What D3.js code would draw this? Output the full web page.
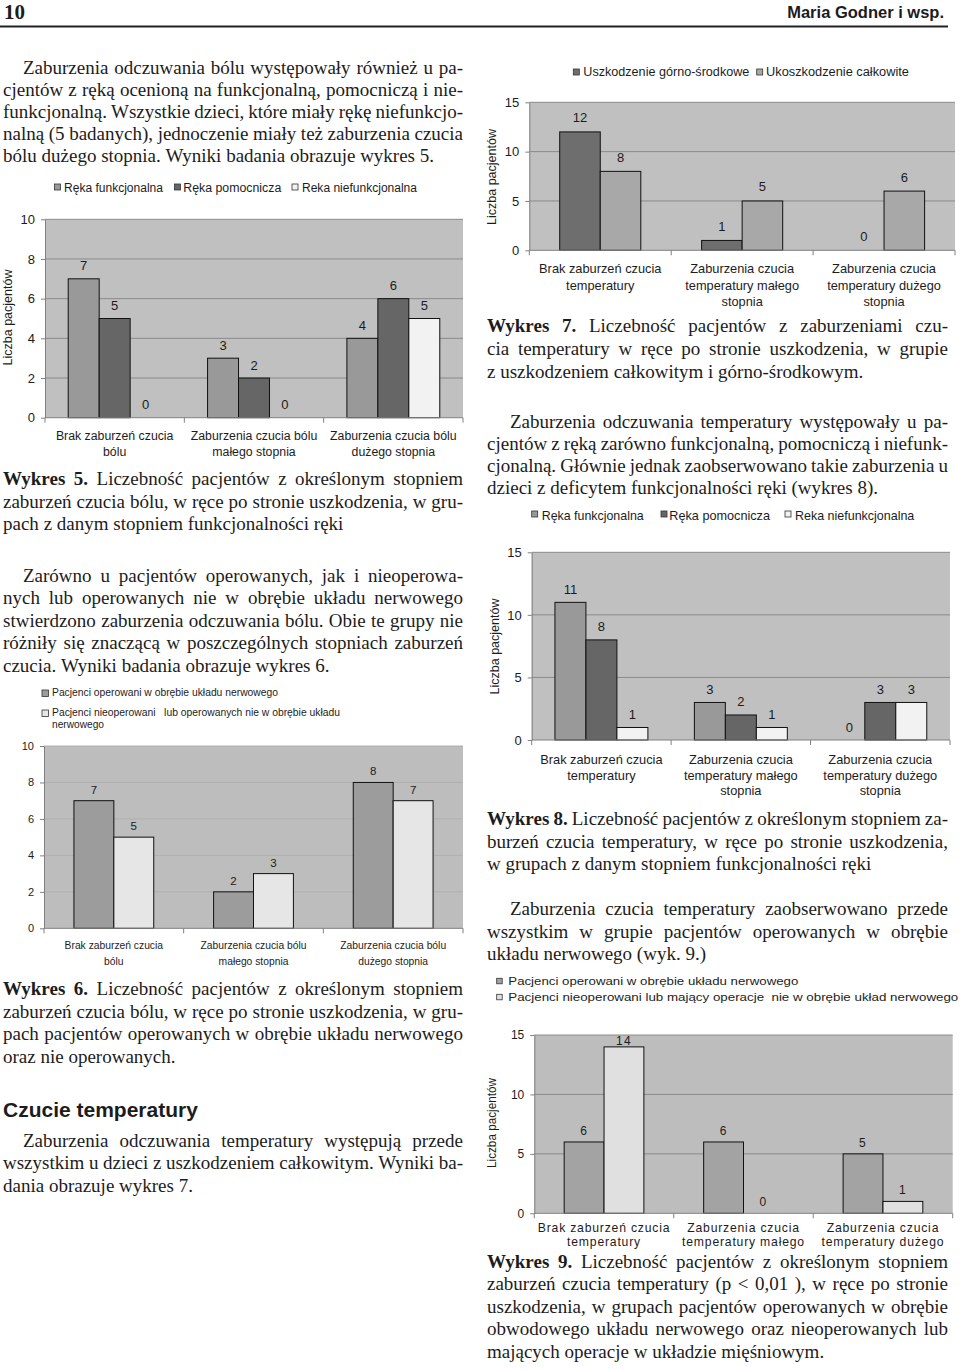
<!DOCTYPE html>
<html><head><meta charset="utf-8">
<script src="https://cdn.jsdelivr.net/npm/d3@7"></script>
<style>
body{margin:0;background:#fff}
svg{display:block}
.serif{font-family:"Liberation Serif","Times New Roman",serif}
.sans{font-family:"Liberation Sans",Arial,sans-serif}
</style></head><body>
<svg id="page" width="960" height="1370"></svg>
<script>
// ---------- DATA ----------
// Wykres 5
const c5Categories = [["Brak zaburzeń czucia","bólu"],["Zaburzenia czucia bólu","małego stopnia"],["Zaburzenia czucia bólu","dużego stopnia"]];
const c5SeriesNames = ["Ręka funkcjonalna","Ręka pomocnicza","Reka niefunkcjonalna"];
const c5Funkcjonalna = [7,3,4];
const c5Pomocnicza = [5,2,6];
const c5Niefunkcjonalna = [0,0,5];
const c5Ticks = [0,2,4,6,8,10];
// Wykres 6
const c6Categories = [["Brak zaburzeń czucia","bólu"],["Zaburzenia czucia bólu","małego stopnia"],["Zaburzenia czucia bólu","dużego stopnia"]];
const c6SeriesNames = ["Pacjenci operowani w obrębie układu nerwowego","Pacjenci nieoperowani   lub operowanych nie w obrębie układu nerwowego"];
const c6Operowani = [7,2,8];
const c6Nieoperowani = [5,3,7];
const c6Ticks = [0,2,4,6,8,10];
// Wykres 7
const c7Categories = [["Brak zaburzeń czucia","temperatury"],["Zaburzenia czucia","temperatury małego","stopnia"],["Zaburzenia czucia","temperatury dużego","stopnia"]];
const c7SeriesNames = ["Uszkodzenie górno-środkowe","Ukoszkodzenie całkowite"];
const c7GornoSrodkowe = [12,1,0];
const c7Calkowite = [8,5,6];
const c7Ticks = [0,5,10,15];
// Wykres 8
const c8Categories = [["Brak zaburzeń czucia","temperatury"],["Zaburzenia czucia","temperatury małego","stopnia"],["Zaburzenia czucia","temperatury dużego","stopnia"]];
const c8SeriesNames = ["Ręka funkcjonalna","Ręka pomocnicza","Reka niefunkcjonalna"];
const c8Funkcjonalna = [11,3,0];
const c8Pomocnicza = [8,2,3];
const c8Niefunkcjonalna = [1,1,3];
const c8Ticks = [0,5,10,15];
// Wykres 9
const c9Categories = [["Brak zaburzeń czucia","temperatury"],["Zaburzenia czucia","temperatury małego"],["Zaburzenia czucia","temperatury dużego"]];
const c9SeriesNames = ["Pacjenci operowani w obrębie układu nerwowego","Pacjenci nieoperowani lub mający operacje  nie w obrębie układ nerwowego"];
const c9Operowani = [6,6,5];
const c9Nieoperowani = [14,0,1];
const c9Ticks = [0,5,10,15];
const yLabel = "Liczba pacjentów";

// ---------- TEXT ----------
const para1 = ["Zaburzenia odczuwania bólu występowały również u pa-","cjentów z ręką ocenioną na funkcjonalną, pomocniczą i nie-","funkcjonalną. Wszystkie dzieci, które miały rękę niefunkcjo-","nalną (5 badanych), jednoczenie miały też zaburzenia czucia","bólu dużego stopnia. Wyniki badania obrazuje wykres 5."];
const cap5 = ["Wykres 5. Liczebność pacjentów z określonym stopniem","zaburzeń czucia bólu, w ręce po stronie uszkodzenia, w gru-","pach z danym stopniem funkcjonalności ręki"];
const para2 = ["Zarówno u pacjentów operowanych, jak i nieoperowa-","nych lub operowanych nie w obrębie układu nerwowego","stwierdzono zaburzenia odczuwania bólu. Obie te grupy nie","różniły się znaczącą w poszczególnych stopniach zaburzeń","czucia. Wyniki badania obrazuje wykres 6."];
const cap6 = ["Wykres 6. Liczebność pacjentów z określonym stopniem","zaburzeń czucia bólu, w ręce po stronie uszkodzenia, w gru-","pach pacjentów operowanych w obrębie układu nerwowego","oraz nie operowanych."];
const para3 = ["Zaburzenia odczuwania temperatury występują przede","wszystkim u dzieci z uszkodzeniem całkowitym. Wyniki ba-","dania obrazuje wykres 7."];
const cap7 = ["Wykres 7. Liczebność pacjentów z zaburzeniami czu-","cia temperatury w ręce po stronie uszkodzenia, w grupie","z uszkodzeniem całkowitym i górno-środkowym."];
const paraR1 = ["Zaburzenia odczuwania temperatury występowały u pa-","cjentów z ręką zarówno funkcjonalną, pomocniczą i niefunk-","cjonalną. Głównie jednak zaobserwowano takie zaburzenia u","dzieci z deficytem funkcjonalności ręki (wykres 8)."];
const cap8 = ["Wykres 8. Liczebność pacjentów z określonym stopniem za-","burzeń czucia temperatury, w ręce  po stronie uszkodzenia,","w grupach z danym stopniem funkcjonalności ręki"];
const paraR2 = ["Zaburzenia czucia temperatury zaobserwowano przede","wszystkim w grupie pacjentów operowanych w obrębie","układu nerwowego (wyk. 9.)"];
const cap9 = ["Wykres 9. Liczebność pacjentów z określonym stopniem","zaburzeń czucia temperatury (p < 0,01 ), w ręce po stronie","uszkodzenia, w grupach pacjentów operowanych w obrębie","obwodowego układu nerwowego oraz nieoperowanych lub","mających operacje w układzie mięśniowym."];

const svg = d3.select("#page");
const INK = "#1c1c1c";

// header
svg.append("text").attr("class","serif").attr("x",4).attr("y",19).attr("font-size",21).attr("font-weight","bold").attr("fill",INK).text("10");
svg.append("text").attr("class","sans").attr("x",944).attr("y",17.5).attr("text-anchor","end").attr("font-size",16.5).attr("font-weight","bold").attr("fill",INK).text("Maria Godner i wsp.");
svg.append("line").attr("x1",0).attr("x2",948).attr("y1",26.5).attr("y2",26.5).attr("stroke","#222").attr("stroke-width",2);

function drawLines(lines, o) {
  const g = svg.append("g").attr("class","serif").attr("fill",INK);
  lines.forEach((line, i) => {
    const y = o.y0 + i * o.step;
    const ind = i === 0 ? (o.indent || 0) : 0;
    const x = o.x + ind, w = o.width - ind;
    const justify = i < lines.length - 1;
    const words = line.split(/\s+/).filter(Boolean);
    const nodes = words.map((wd, k) => g.append("text").attr("font-size", 19).attr("y", y)
      .attr("font-weight", (i === 0 && k < (o.bold || 0)) ? "bold" : null).text(wd));
    const widths = nodes.map(n => n.node().getComputedTextLength());
    const sum = d3.sum(widths);
    const gap = (justify && words.length > 1) ? (w - sum) / (words.length - 1) : 4.75;
    let cx = x;
    nodes.forEach((n, k) => { n.attr("x", cx); cx += widths[k] + gap; });
  });
}

drawLines(para1, {x:3, width:460, y0:73.5, step:22.2, indent:20});
drawLines(cap5, {x:3, width:460, y0:485, step:22.5, bold:2});
drawLines(para2, {x:3, width:460, y0:581.7, step:22.5, indent:20});
drawLines(cap6, {x:3, width:460, y0:995, step:22.7, bold:2});
svg.append("text").attr("class","sans").attr("x",3).attr("y",1117).attr("font-size",21).attr("font-weight","bold").attr("fill",INK).text("Czucie temperatury");
drawLines(para3, {x:3, width:460, y0:1146.7, step:22.5, indent:20});
drawLines(cap7, {x:487, width:461, y0:331.7, step:23.3, bold:2});
drawLines(paraR1, {x:487, width:461, y0:427.7, step:22, indent:23});
drawLines(cap8, {x:487, width:461, y0:825, step:22.5, bold:2});
drawLines(paraR2, {x:487, width:461, y0:915, step:22.5, indent:23});
drawLines(cap9, {x:487, width:461, y0:1267.5, step:22.5, bold:2});

// ---------- CHARTS ----------
function barChart(c) {
  const g = svg.append("g").attr("class","sans").attr("fill",INK);
  const x = d3.scaleBand().domain(d3.range(c.categories.length)).range([c.left, c.right]);
  const xi = d3.scaleBand().domain(d3.range(c.series.length)).range([0, x.bandwidth()]).paddingInner(0).paddingOuter(0.75);
  const y = d3.scaleLinear().domain([0, c.max]).range([c.bottom, c.top]);
  g.append("rect").attr("x",c.left).attr("y",c.top).attr("width",c.right-c.left).attr("height",c.bottom-c.top).attr("fill",c.bg);
  g.selectAll(".grid").data(c.ticks.filter(t => t > 0)).join("line")
    .attr("x1",c.left).attr("x2",c.right).attr("y1",d=>y(d)).attr("y2",d=>y(d))
    .attr("stroke",c.grid).attr("stroke-width",1);
  c.series.forEach((s, si) => {
    const sg = g.append("g");
    sg.selectAll("rect").data(s.values).join("rect")
      .attr("x",(d,i)=>x(i)+xi(si)).attr("width",xi.bandwidth())
      .attr("y",d=>y(d)).attr("height",d=>y(0)-y(d))
      .attr("fill",s.color).attr("stroke",d=>d>0?"#111":"none").attr("stroke-width",1);
    sg.selectAll("text").data(s.values).join("text")
      .attr("x",(d,i)=>x(i)+xi(si)+xi.bandwidth()/2)
      .attr("y",d=>Math.max(y(d)-c.valOff, c.top+10))
      .attr("text-anchor","middle").attr("font-size",c.valFont)
      .attr("letter-spacing",c.valSpacing||0)
      .text(d=>d);
  });
  // y axis
  const ax = g.append("g").attr("transform",`translate(${c.left},0)`)
    .call(d3.axisLeft(y).tickValues(c.ticks).tickSize(4).tickSizeOuter(0).tickPadding(6).tickFormat(d3.format("d")));
  ax.selectAll("path,line").attr("stroke","#808080");
  ax.selectAll("text").attr("font-size",c.tickFont).attr("fill",INK).attr("font-family","Liberation Sans, Arial, sans-serif");
  // x axis
  g.append("line").attr("x1",c.left).attr("x2",c.right).attr("y1",y(0)).attr("y2",y(0)).attr("stroke","#808080");
  const bounds = x.domain().map(i=>x(i)).concat([c.right]);
  g.selectAll(".xt").data(bounds).join("line").attr("x1",d=>d).attr("x2",d=>d)
    .attr("y1",y(0)).attr("y2",y(0)+5).attr("stroke","#808080");
  // category labels
  c.categories.forEach((lines, i) => {
    const t = g.append("text").attr("text-anchor","middle").attr("font-size",c.catFont)
      .attr("letter-spacing",c.catSpacing||0);
    lines.forEach((ln, k) => t.append("tspan").attr("x",x(i)+x.bandwidth()/2)
      .attr("y",y(0)+c.catOffset+k*c.catLH).text(ln));
  });
  // y label
  if (c.ylabel) {
    const t = g.append("text").attr("transform",`translate(${c.ylabel.x},${c.ylabel.y}) rotate(-90)`)
      .attr("text-anchor","middle").attr("font-size",c.ylabel.font).text(yLabel);
    if (c.ylabel.len) t.attr("textLength",c.ylabel.len).attr("lengthAdjust","spacingAndGlyphs");
  }
  // legend
  c.legend.forEach((L, li) => {
    const s = c.series[li];
    g.append("rect").attr("x",L.sx).attr("y",L.sy).attr("width",L.size||6).attr("height",L.size||6)
      .attr("fill",s.color).attr("stroke","#333").attr("stroke-width",0.8);
    L.lines.forEach(ln => {
      const t = g.append("text").attr("x",L.tx).attr("y",ln.y).attr("font-size",c.legFont)
        .style("white-space","pre").text(ln.text);
      if (ln.len) t.attr("textLength",ln.len).attr("lengthAdjust","spacingAndGlyphs");
    });
  });
}

// Wykres 5
barChart({
  left:45, right:463, top:219.3, bottom:417.7, max:10, ticks:c5Ticks,
  categories:c5Categories, bg:"#c0c0c0", grid:"#8a8a8a",
  series:[{values:c5Funkcjonalna,color:"#999999"},{values:c5Pomocnicza,color:"#666666"},{values:c5Niefunkcjonalna,color:"#f2f2f2"}],
  tickFont:13, catFont:12.3, catOffset:22, catLH:16.7, valFont:13, valOff:8.5,
  ylabel:{x:11.5, y:317.5, font:12.5}, legFont:12,
  legend:[
    {sx:54.5, sy:184, tx:64, lines:[{text:c5SeriesNames[0], y:191.5, len:99}]},
    {sx:174.5, sy:184, tx:183.3, lines:[{text:c5SeriesNames[1], y:191.5, len:98}]},
    {sx:292, sy:184, tx:302, lines:[{text:c5SeriesNames[2], y:191.5, len:115}]}
  ]
});
// Wykres 6
barChart({
  left:44, right:463, top:746, bottom:928.3, max:10, ticks:c6Ticks,
  categories:c6Categories, bg:"#bdbdbd", grid:"#b0b0b0",
  series:[{values:c6Operowani,color:"#9c9c9c"},{values:c6Nieoperowani,color:"#e6e6e6"}],
  tickFont:11, catFont:10.3, catOffset:21, catLH:16, valFont:11.5, valOff:7,
  legFont:10.5,
  legend:[
    {sx:42, sy:690, size:6.5, tx:52, lines:[{text:c6SeriesNames[0], y:696, len:226}]},
    {sx:42, sy:710, size:6.5, tx:52, lines:[{text:"Pacjenci nieoperowani   lub operowanych nie w obrębie układu", y:716, len:288},{text:"nerwowego", y:727.5, len:52}]}
  ]
});
// Wykres 7
barChart({
  left:529.3, right:955, top:102.3, bottom:250.3, max:15, ticks:c7Ticks,
  categories:c7Categories, bg:"#c0c0c0", grid:"#8a8a8a",
  series:[{values:c7GornoSrodkowe,color:"#6e6e6e"},{values:c7Calkowite,color:"#a8a8a8"}],
  tickFont:13, catFont:12.8, catOffset:23, catLH:16.5, valFont:13, valOff:9.5,
  ylabel:{x:496, y:177, font:12.5}, legFont:12.5,
  legend:[
    {sx:573.3, sy:69, tx:583.3, lines:[{text:c7SeriesNames[0], y:76, len:166}]},
    {sx:756.7, sy:69, tx:766, lines:[{text:c7SeriesNames[1], y:76, len:143}]}
  ]
});
// Wykres 8
barChart({
  left:531.7, right:950, top:552.3, bottom:740, max:15, ticks:c8Ticks,
  categories:c8Categories, bg:"#c0c0c0", grid:"#8a8a8a",
  series:[{values:c8Funkcjonalna,color:"#999999"},{values:c8Pomocnicza,color:"#666666"},{values:c8Niefunkcjonalna,color:"#f2f2f2"}],
  tickFont:13, catFont:12.8, catOffset:24, catLH:15.7, valFont:13, valOff:8.5,
  ylabel:{x:499, y:646.5, font:12.5}, legFont:12.4,
  legend:[
    {sx:531.7, sy:511, tx:541.7, lines:[{text:c8SeriesNames[0], y:519.5, len:102}]},
    {sx:661, sy:511, tx:669.3, lines:[{text:c8SeriesNames[1], y:519.5, len:100.7}]},
    {sx:785, sy:511, tx:795, lines:[{text:c8SeriesNames[2], y:519.5, len:119.3}]}
  ]
});
// Wykres 9
barChart({
  left:534.3, right:952.7, top:1035, bottom:1213.3, max:15, ticks:c9Ticks,
  categories:c9Categories, bg:"#bdbdbd", grid:"#8a8a8a",
  series:[{values:c9Operowani,color:"#a3a3a3"},{values:c9Nieoperowani,color:"#e0e0e0"}],
  tickFont:12, catFont:12.2, catSpacing:0.8, catOffset:19, catLH:13.3, valFont:12, valSpacing:1.2, valOff:7,
  ylabel:{x:495.5, y:1123, font:13, len:90}, legFont:11.5,
  legend:[
    {sx:496.7, sy:978.3, size:5.5, tx:508.3, lines:[{text:c9SeriesNames[0], y:985, len:290}]},
    {sx:496.7, sy:994.3, size:5.5, tx:508.3, lines:[{text:c9SeriesNames[1], y:1001, len:450}]}
  ]
});
</script></body></html>
